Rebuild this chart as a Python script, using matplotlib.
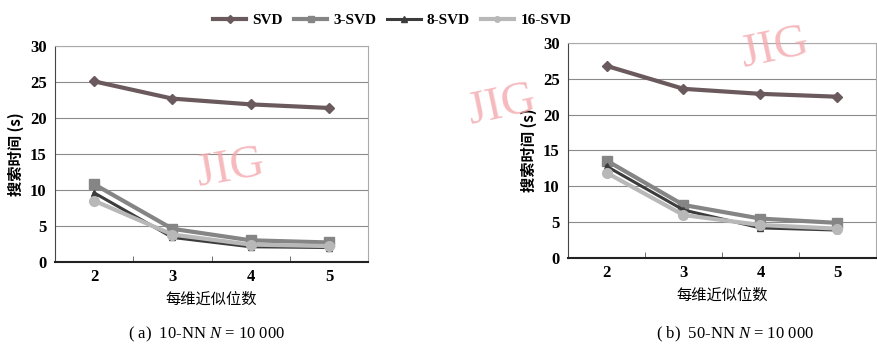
import matplotlib.pyplot as plt

plt.rcParams['font.family'] = ['Liberation Serif', 'Noto Sans CJK SC']
plt.rcParams['mathtext.fontset'] = 'custom'
plt.rcParams['mathtext.it'] = 'Liberation Serif:italic'
plt.rcParams['mathtext.rm'] = 'Liberation Serif'

x_vals = [2, 3, 4, 5]
series_names = ['SVD', '3-SVD', '8-SVD', '16-SVD']

# (a) 10-NN
svd_a = [25.1, 22.7, 21.9, 21.4]
svd3_a = [10.8, 4.6, 3.0, 2.7]
svd8_a = [9.6, 3.4, 2.1, 2.0]
svd16_a = [8.5, 3.8, 2.4, 2.2]

# (b) 50-NN
svd_b = [26.8, 23.6, 22.9, 22.5]
svd3_b = [13.6, 7.4, 5.5, 4.9]
svd8_b = [12.8, 6.7, 4.2, 3.9]
svd16_b = [11.9, 6.0, 4.6, 4.1]

y_ticks = [0, 5, 10, 15, 20, 25, 30]
xlabel = '每维近似位数'
ylabel = '搜索时间 (s)'
captions = ['( a)  10-NN $N$ = 10 000', '( b)  50-NN $N$ = 10 000']

styles = [
    dict(color='#6a5a5e', marker='D', markersize=5, lw=3.0),
    dict(color='#858585', marker='s', markersize=7, lw=3.0),
    dict(color='#3c3c3c', marker='^', markersize=5, lw=2.2),
    dict(color='#b8b8b8', marker='o', markersize=7, lw=3.0),
]

fig = plt.figure(figsize=(8.77, 3.52), dpi=100)
ax_a = fig.add_axes([0.0627, 0.256, 0.357, 0.613])
ax_b = fig.add_axes([0.6477, 0.267, 0.351, 0.611])

cjk = ['Noto Sans CJK SC', 'DejaVu Sans']


def draw(ax, data):
    lines = []
    for ys, st in zip(data, styles):
        ln, = ax.plot(x_vals, ys, zorder=3, **st)
        lines.append(ln)
    ax.set_xlim(1.5, 5.5)
    ax.set_ylim(0, 30)
    ax.set_yticks(y_ticks)
    ax.set_xticks(x_vals)
    ax.set_xticks([2.5, 3.5, 4.5], minor=True)
    ax.tick_params(axis='y', length=0, labelsize=12, pad=6)
    ax.tick_params(axis='x', which='major', length=0, labelsize=12, pad=5)
    ax.tick_params(axis='x', which='minor', direction='in', length=4, color='#555')
    for lab in ax.get_xticklabels() + ax.get_yticklabels():
        lab.set_fontweight('bold')
    ax.grid(axis='y', color='#8a8a8a', lw=0.8)
    ax.set_axisbelow(True)
    for s in ['top', 'right']:
        ax.spines[s].set_color('#aaaaaa')
        ax.spines[s].set_linewidth(0.8)
    ax.spines['left'].set_color('#444')
    ax.spines['bottom'].set_color('#222')
    ax.spines['bottom'].set_linewidth(1.5)
    ax.set_xlabel(xlabel, family=cjk, fontsize=11, labelpad=4)
    ax.set_ylabel(ylabel, family=cjk, fontsize=11, fontweight='bold', labelpad=4)
    return lines


lines = draw(ax_a, [svd_a, svd3_a, svd8_a, svd16_a])
draw(ax_b, [svd_b, svd3_b, svd8_b, svd16_b])

leg = fig.legend(lines, series_names, loc='upper center', bbox_to_anchor=(0.447, 1.0),
                 ncol=4, frameon=False, handlelength=2.2, columnspacing=0.7,
                 handletextpad=0.4, prop=dict(family='Liberation Serif', weight='bold', size=11))
for h in leg.get_lines():
    h.set_markersize(4)

fig.text(0.235, 0.04, captions[0], ha='center', fontsize=12)
fig.text(0.838, 0.04, captions[1], ha='center', fontsize=12)

# watermarks
wm = dict(color='#f4a9ae', fontsize=34, family='Liberation Serif', alpha=0.8, zorder=10)
fig.text(0.263, 0.52, 'JIG', rotation=10, ha='center', va='center', **wm)
fig.text(0.572, 0.70, 'JIG', rotation=12, ha='center', va='center', **wm)
fig.text(0.884, 0.86, 'JIG', rotation=12, ha='center', va='center', **wm)

fig.savefig('out.png', dpi=100)
